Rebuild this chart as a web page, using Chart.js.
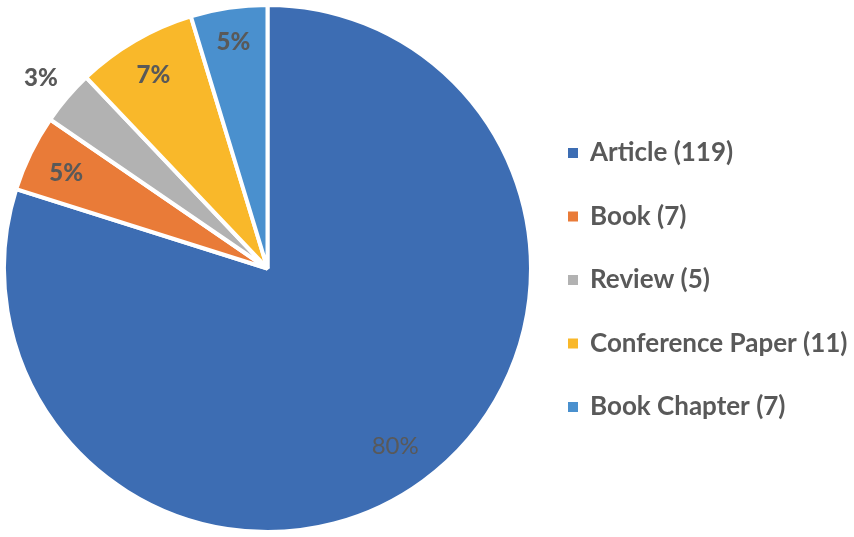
<!DOCTYPE html>
<html><head><meta charset="utf-8">
<script src="https://cdn.jsdelivr.net/npm/chart.js@4/dist/chart.umd.min.js"></script>
<style>html,body{margin:0;padding:0;background:#fff}#wrap{width:854px;height:537px}</style>
</head><body><div id="wrap"><canvas id="c" width="854" height="537"></canvas></div>
<script>
const categories = ['Article', 'Book', 'Review', 'Conference Paper', 'Book Chapter'];
const counts = [119, 7, 5, 11, 7];
const colors = ['#3D6DB3', '#E97B38', '#B2B2B2', '#F9B82A', '#4A90CE'];
const labelRadius = [0.82, 0.85, 1.13, 0.86, 0.88];
const FONT = 'Lato';

const total = counts.reduce((a,b)=>a+b,0);
const legendLabels = categories.map((c,i)=>c+' ('+counts[i]+')');

const sliceLabels = {
  id:'sliceLabels',
  afterDatasetsDraw(chart){
    const ctx = chart.ctx;
    const meta = chart.getDatasetMeta(0);
    ctx.save();
    ctx.textAlign='center'; ctx.textBaseline='middle';
    meta.data.forEach((arc,i)=>{
      const p = arc.getProps(['x','y','startAngle','endAngle','outerRadius'],true);
      const mid = (p.startAngle+p.endAngle)/2;
      const r = p.outerRadius*labelRadius[i];
      const x = p.x + Math.cos(mid)*r, y = p.y + Math.sin(mid)*r + 3;
      const pct = Math.round(counts[i]/total*100)+'%';
      ctx.font = (i===0?'400 ':'900 ')+'24px '+FONT;
      ctx.fillStyle = '#595959';
      ctx.fillText(pct,x,y);
    });
    ctx.restore();
  }
};

const sideLegend = {
  id:'sideLegend',
  afterDraw(chart){
    const ctx = chart.ctx;
    ctx.save();
    ctx.textAlign='left'; ctx.textBaseline='middle';
    ctx.font='700 26px '+FONT;
    const x0=568, y0=153, dy=63.5;
    chart.data.labels.forEach((lab,i)=>{
      const y=y0+dy*i;
      ctx.fillStyle=chart.data.datasets[0].backgroundColor[i];
      ctx.fillRect(x0,y-5,10,10);
      ctx.fillStyle='#595959';
      ctx.fillText(lab,x0+22,y);
    });
    ctx.restore();
  }
};

new Chart(document.getElementById('c'),{
  type:'pie',
  data:{labels:legendLabels,datasets:[{data:counts,backgroundColor:colors,borderColor:'#ffffff',borderWidth:4}]},
  options:{
    responsive:false,animation:false,
    layout:{padding:{left:2,top:3,right:321,bottom:3}},
    plugins:{legend:{display:false},tooltip:{enabled:false}}
  },
  plugins:[sliceLabels,sideLegend]
});
</script></body></html>
